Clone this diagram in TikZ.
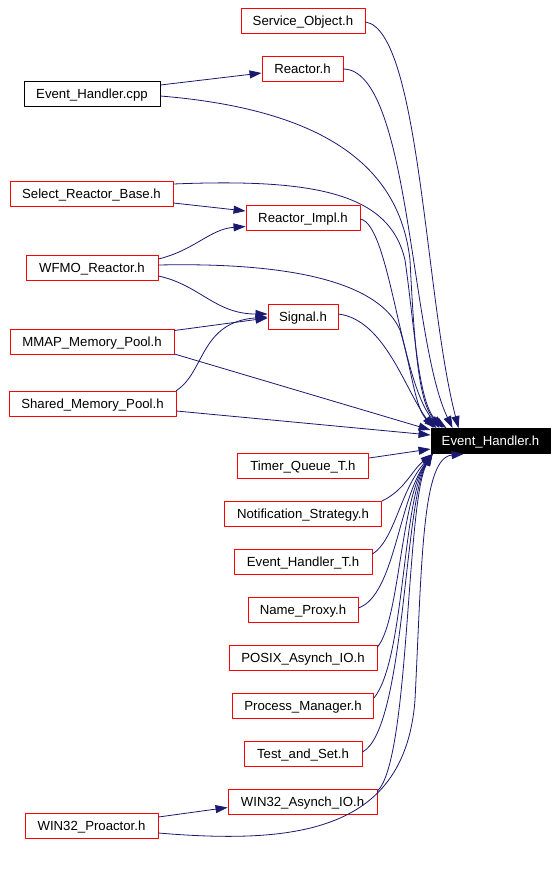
\documentclass[tikz,border=0pt]{standalone}
\usepackage{fontspec}
\setmainfont{Liberation Sans}
\usetikzlibrary{arrows.meta}
\definecolor{edgeblue}{RGB}{25,25,112}
\begin{document}
\begin{tikzpicture}[
	x=1pt,y=-1pt,
	>={Triangle[length=12pt,width=8pt]},
	line cap=round,
	line join=round,
	file/.style={draw=red,line width=0.9pt,minimum height=25pt,inner sep=0pt,text height=9.5pt,text depth=0pt,font=\fontsize{13.2}{15}\selectfont},
	srcfile/.style={file,draw=black},
	rootfile/.style={file,draw=black,fill=black,text=white},
	dep/.style={->,draw=edgeblue,line width=0.8pt}
	]
	\useasboundingbox (0,0) rectangle (559,871);
	% files
	\node[file,minimum width=124pt] (svcobj) at (303,20.5) {Service\_Object.h};
	\node[file,minimum width=81pt] (reactor) at (302.5,69) {Reactor.h};
	\node[srcfile,minimum width=136pt] (ehcpp) at (92,93.5) {Event\_Handler.cpp};
	\node[file,minimum width=163pt] (selbase) at (91.5,194) {Select\_Reactor\_Base.h};
	\node[file,minimum width=114pt] (rimpl) at (303,217.5) {Reactor\_Impl.h};
	\node[file,minimum width=132pt] (wfmo) at (92,267.5) {WFMO\_Reactor.h};
	\node[file,minimum width=70pt] (signal) at (303,317) {Signal.h};
	\node[file,minimum width=164pt] (mmap) at (92,342) {MMAP\_Memory\_Pool.h};
	\node[file,minimum width=167pt] (shmem) at (92.5,403.5) {Shared\_Memory\_Pool.h};
	\node[rootfile,minimum width=119pt] (eh) at (490.5,441) {Event\_Handler.h};
	\node[file,minimum width=131pt] (timerq) at (303,465.5) {Timer\_Queue\_T.h};
	\node[file,minimum width=157pt] (notify) at (303,513.5) {Notification\_Strategy.h};
	\node[file,minimum width=138pt] (eht) at (303,561.5) {Event\_Handler\_T.h};
	\node[file,minimum width=110pt] (nproxy) at (303,609.5) {Name\_Proxy.h};
	\node[file,minimum width=148pt] (posixio) at (303,657.5) {POSIX\_Asynch\_IO.h};
	\node[file,minimum width=141pt] (procmgr) at (303,705.5) {Process\_Manager.h};
	\node[file,minimum width=118pt] (tas) at (303,753.5) {Test\_and\_Set.h};
	\node[file,minimum width=149pt] (w32io) at (302.5,801.5) {WIN32\_Asynch\_IO.h};
	\node[file,minimum width=133pt] (w32pro) at (91.5,825.5) {WIN32\_Proactor.h};
	% side includes
	\draw[dep] ([yshift=8.5]ehcpp.east) -- ([yshift=-4]reactor.west);
	\draw[dep] ([yshift=-9]selbase.east) -- ([yshift=6.5]rimpl.west);
	\draw[dep] ([yshift=8.5]wfmo.east) .. controls (195,250) and (210,229) .. ([yshift=-9]rimpl.west);
	\draw[dep] ([yshift=-8.5]wfmo.east) .. controls (200,285) and (215,314) .. ([yshift=3]signal.west);
	\draw[dep] ([yshift=11.5]mmap.east) -- ([yshift=-1]signal.west);
	\draw[dep] ([yshift=13]shmem.east) .. controls (205,372) and (200,322) .. ([yshift=0]signal.west);
	\draw[dep] ([yshift=8.5]w32pro.east) -- ([yshift=-6]w32io.west);
	% from above into Event_Handler.h
	\draw[dep] ([yshift=-1.5]svcobj.east) .. controls (420,30) and (425,300) .. ([xshift=28]eh.north west);
	\draw[dep] (reactor.east) .. controls (410,70) and (410,340) .. ([xshift=22]eh.north west);
	\draw[dep] ([yshift=-2.5]ehcpp.east) .. controls (330,110) and (400,170) .. (410,260) .. controls (415,360) and (420,410) .. ([xshift=16]eh.north west);
	\draw[dep] ([yshift=10]selbase.east) .. controls (320,178) and (390,195) .. (405,260) .. controls (415,330) and (418,400) .. ([xshift=12]eh.north west);
	\draw[dep] ([yshift=-1.5]rimpl.east) .. controls (390,225) and (400,380) .. ([xshift=9]eh.north west);
	\draw[dep] ([yshift=2.5]wfmo.east) .. controls (300,262) and (380,285) .. (400,330) .. controls (412,370) and (415,410) .. ([xshift=6]eh.north west);
	\draw[dep] ([yshift=3]signal.east) .. controls (385,320) and (405,390) .. ([xshift=3]eh.north west);
	\draw[dep] ([yshift=-12]mmap.east) -- ([yshift=11]eh.west);
	\draw[dep] ([yshift=-7.5]shmem.east) -- ([yshift=6]eh.west);
	% from below into Event_Handler.h
	\draw[dep] ([yshift=7.5]timerq.east) -- ([yshift=-8]eh.west);
	\draw[dep] ([yshift=12.5]notify.east) .. controls (405,490) and (412,470) .. ([xshift=2]eh.south west);
	\draw[dep] ([yshift=7.5]eht.east) .. controls (395,540) and (400,490) .. ([xshift=2]eh.south west);
	\draw[dep] ([yshift=1.5]nproxy.east) .. controls (395,595) and (398,500) .. ([xshift=2]eh.south west);
	\draw[dep] ([yshift=10.5]posixio.east) .. controls (400,620) and (400,500) .. ([xshift=2]eh.south west);
	\draw[dep] ([yshift=7.5]procmgr.east) .. controls (405,660) and (402,500) .. ([xshift=2]eh.south west);
	\draw[dep] ([yshift=1.5]tas.east) .. controls (405,730) and (404,500) .. ([xshift=2]eh.south west);
	\draw[dep] ([yshift=10.5]w32io.east) .. controls (410,760) and (406,500) .. ([xshift=2]eh.south west);
	\draw[dep] ([yshift=-7.5]w32pro.east) .. controls (300,845) and (405,830) .. (415,700) .. controls (422,560) and (422,458) .. ([xshift=33]eh.south west);
\end{tikzpicture}
\end{document}
